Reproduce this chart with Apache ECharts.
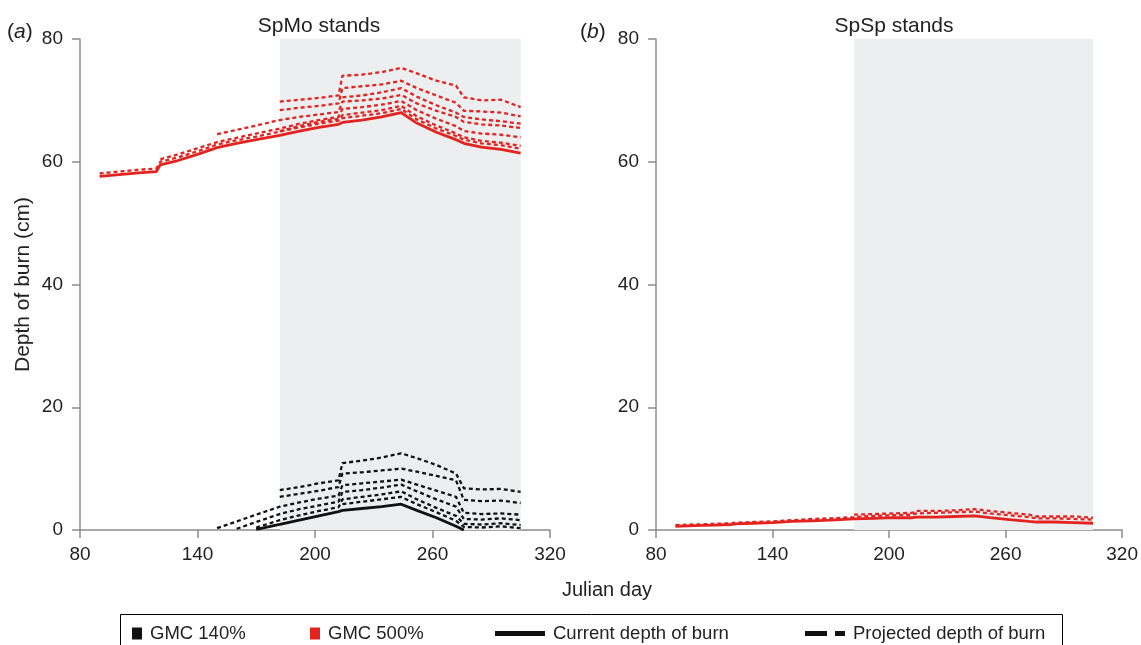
<!DOCTYPE html>
<html>
<head>
<meta charset="utf-8">
<script src="https://cdn.jsdelivr.net/npm/echarts@6/dist/echarts.min.js"></script>
<style>
  html, body { margin: 0; padding: 0; background: #fff; }
  #chart { width: 1141px; height: 645px; }
</style>
</head>
<body>
<div id="chart"></div>
<script>
var _ = null;

var days = [90, 100, 110, 119, 121, 130, 140, 150, 160, 170, 182, 192, 202, 212, 214, 224, 234, 244, 252, 262, 272, 276, 285, 295, 305];

// fire season shading
var shadeStart = 182;
var shadeEnd = 305;

var xTicks = { min: 80, max: 320, interval: 60 };
var yTicks = { min: 0, max: 80, interval: 20 };

// (a) SpMo stands, GMC 500%
var redCurrentA = [57.6, 57.9, 58.2, 58.4, 59.5, 60.2, 61.2, 62.3, 63.0, 63.6, 64.3, 65.0, 65.6, 66.1, 66.4, 66.8, 67.3, 68.0, 66.3, 64.8, 63.6, 63.0, 62.4, 62.0, 61.4];
var redProjA1 = [_, _, _, _, _, _, _, _, _, _, 69.8, 70.1, 70.4, 70.8, 74.0, 74.2, 74.6, 75.3, 74.4, 73.2, 72.4, 70.5, 70.0, 70.1, 68.9];
var redProjA2 = [_, _, _, _, _, _, _, _, _, _, 68.4, 68.8, 69.1, 69.5, 72.0, 72.3, 72.6, 73.2, 72.0, 70.8, 69.6, 68.3, 68.2, 68.0, 67.4];
var redProjA3 = [_, _, _, _, _, _, _, 64.5, 65.2, 65.9, 66.8, 67.3, 67.7, 68.1, 69.8, 70.0, 70.3, 70.9, 69.5, 68.3, 67.3, 66.5, 66.1, 65.9, 65.5];
var redProjA4 = [_, _, _, _, 60.4, 61.2, 62.2, 63.2, 63.9, 64.6, 65.4, 66.2, 66.8, 67.3, 68.6, 68.9, 69.3, 69.9, 68.4, 67.0, 65.8, 65.0, 64.6, 64.4, 64.0];
var redProjA5 = [58.1, 58.4, 58.7, 58.9, 60.0, 60.7, 61.7, 62.8, 63.5, 64.1, 64.9, 65.6, 66.2, 66.7, 67.6, 68.0, 68.4, 69.1, 67.4, 65.9, 64.6, 64.0, 63.4, 63.1, 62.6];
var redProjA6 = [_, _, _, _, _, _, _, _, _, _, _, _, _, _, 70.5, 70.8, 71.3, 72.0, 70.6, 69.2, 68.0, 67.3, 66.9, 66.6, 66.2];
var redProjA7 = [_, _, _, _, _, _, _, _, _, _, 65.0, 65.8, 66.5, 67.0, 67.1, 67.5, 67.9, 68.6, 66.9, 65.4, 64.2, 63.6, 63.0, 62.7, 62.1];

// (a) SpMo stands, GMC 140%
var blackCurrentA = [_, _, _, _, _, _, _, _, _, 0.1, 0.9, 1.6, 2.3, 3.0, 3.2, 3.5, 3.8, 4.2, 3.2, 2.0, 0.6, 0.0, _, _, _];
var blackProjA1 = [_, _, _, _, _, _, _, _, _, _, 6.5, 7.0, 7.6, 8.1, 10.9, 11.3, 11.8, 12.5, 11.7, 10.6, 9.2, 6.8, 6.6, 6.7, 6.2];
var blackProjA2 = [_, _, _, _, _, _, _, _, _, _, 5.4, 5.9, 6.4, 7.0, 9.2, 9.4, 9.7, 10.0, 9.5, 8.8, 8.1, 4.9, 4.7, 4.8, 4.4];
var blackProjA3 = [_, _, _, _, _, _, _, 0.3, 1.4, 2.5, 3.8, 4.5, 5.1, 5.6, 7.3, 7.6, 7.9, 8.2, 7.4, 6.4, 5.4, 2.8, 2.6, 2.7, 2.5];
var blackProjA4 = [_, _, _, _, _, _, _, _, 0.2, 1.3, 2.6, 3.4, 4.0, 4.6, 6.2, 6.5, 6.9, 7.4, 6.3, 5.0, 3.8, 1.8, 1.7, 1.9, 1.6];
var blackProjA5 = [_, _, _, _, _, _, _, _, _, 0.4, 1.6, 2.4, 3.1, 3.7, 5.0, 5.4, 5.8, 6.3, 5.0, 3.6, 2.3, 1.0, 0.9, 1.1, 0.8];
var blackProjA6 = [_, _, _, _, _, _, _, _, _, _, _, _, _, _, 4.2, 4.6, 5.0, 5.4, 4.2, 2.9, 1.5, 0.5, 0.4, 0.6, 0.3];

// (b) SpSp stands, GMC 500%
var redCurrentB = [0.6, 0.7, 0.8, 0.9, 1.0, 1.1, 1.2, 1.4, 1.5, 1.6, 1.8, 1.9, 2.0, 2.0, 2.1, 2.1, 2.2, 2.3, 2.0, 1.7, 1.4, 1.3, 1.3, 1.2, 1.1];
var redProjB1 = [0.8, 0.9, 1.0, 1.1, 1.2, 1.3, 1.4, 1.6, 1.8, 1.9, 2.1, 2.3, 2.4, 2.5, 2.7, 2.8, 2.9, 3.0, 2.7, 2.4, 2.1, 1.9, 1.9, 1.8, 1.7];
var redProjB2 = [_, _, _, _, _, _, _, _, _, _, 2.5, 2.6, 2.7, 2.8, 3.1, 3.1, 3.2, 3.4, 3.1, 2.8, 2.5, 2.2, 2.2, 2.2, 2.0];

var RED = '#e3231f';
var BLACK = '#111111';
var AXIS = '#8c8c8c';
var TXT = '#222222';
var FONT = 'Liberation Sans, Arial, sans-serif';

function pairs(vals) {
    var out = [];
    days.forEach(function (d, i) {
        if (vals[i] !== null) out.push([d, vals[i]]);
    });
    return out;
}

function line(vals, color, dashed, panel) {
    return {
        type: 'line',
        xAxisIndex: panel,
        yAxisIndex: panel,
        data: pairs(vals),
        symbol: 'none',
        silent: true,
        lineStyle: {
            color: color,
            width: dashed ? 2.3 : 2.8,
            type: dashed ? [4, 3] : 'solid'
        }
    };
}

var chart = echarts.init(document.getElementById('chart'));

var series = [];

// shaded band in both panels
[0, 1].forEach(function (p) {
    series.push({
        type: 'line',
        xAxisIndex: p,
        yAxisIndex: p,
        data: [],
        silent: true,
        markArea: {
            silent: true,
            itemStyle: { color: '#eceef0' },
            data: [[{ xAxis: shadeStart }, { xAxis: shadeEnd }]]
        }
    });
});

[redProjA1, redProjA2, redProjA3, redProjA4, redProjA5, redProjA6, redProjA7].forEach(function (v) {
    series.push(line(v, RED, true, 0));
});
series.push(line(redCurrentA, RED, false, 0));

[blackProjA1, blackProjA2, blackProjA3, blackProjA4, blackProjA5, blackProjA6].forEach(function (v) {
    series.push(line(v, BLACK, true, 0));
});
series.push(line(blackCurrentA, BLACK, false, 0));

[redProjB1, redProjB2].forEach(function (v) {
    series.push(line(v, RED, true, 1));
});
series.push(line(redCurrentB, RED, false, 1));

// empty series, only there for the legend
series.push({ name: 'GMC 140%', type: 'line', data: [], itemStyle: { color: BLACK } });
series.push({ name: 'GMC 500%', type: 'line', data: [], itemStyle: { color: RED } });
series.push({ name: 'Current depth of burn', type: 'line', data: [], itemStyle: { color: BLACK } });
series.push({ name: 'Projected depth of burn', type: 'line', data: [], itemStyle: { color: BLACK } });

function xAxis(idx) {
    return {
        gridIndex: idx,
        type: 'value',
        min: xTicks.min,
        max: xTicks.max,
        interval: xTicks.interval,
        axisLine: { onZero: false, lineStyle: { color: AXIS, width: 1.5 } },
        axisTick: { length: 8, lineStyle: { color: AXIS, width: 1.5 } },
        axisLabel: { color: TXT, fontSize: 19, fontFamily: FONT, margin: 15 },
        splitLine: { show: false }
    };
}

function yAxis(idx, name) {
    return {
        gridIndex: idx,
        type: 'value',
        min: yTicks.min,
        max: yTicks.max,
        interval: yTicks.interval,
        name: name,
        nameLocation: 'middle',
        nameGap: 46,
        nameTextStyle: { color: TXT, fontSize: 21, fontFamily: FONT },
        axisLine: { show: true, lineStyle: { color: AXIS, width: 1.5 } },
        axisTick: { show: true, length: 8, lineStyle: { color: AXIS, width: 1.5 } },
        axisLabel: { color: TXT, fontSize: 19, fontFamily: FONT, margin: 17 },
        splitLine: { show: false }
    };
}

var legendText = { color: TXT, fontSize: 18.5, fontFamily: FONT, padding: [0, 0, 0, 3] };

function legendItem(left, name, icon, w, h) {
    return {
        left: left, top: 619, itemWidth: w, itemHeight: h,
        selectedMode: false, textStyle: legendText,
        data: [{ name: name, icon: icon }]
    };
}

var titleText = { color: TXT, fontSize: 21, fontWeight: 'normal', fontFamily: FONT };
var italicA = { rich: { i: { fontStyle: 'italic', fontSize: 21, color: TXT, fontFamily: FONT } } };

var option = {
    animation: false,
    backgroundColor: '#fff',
    title: [
        { text: 'SpMo stands', left: 314, top: 11, textAlign: 'center', textStyle: titleText },
        { text: 'SpSp stands', left: 889, top: 11, textAlign: 'center', textStyle: titleText },
        { text: '({i|a})', left: 2, top: 17, textStyle: Object.assign({}, titleText, italicA) },
        { text: '({i|b})', left: 575, top: 17, textStyle: Object.assign({}, titleText, italicA) },
        { text: 'Julian day', left: 602, top: 575, textAlign: 'center',
          textStyle: { color: TXT, fontSize: 20, fontWeight: 'normal', fontFamily: FONT } }
    ],
    grid: [
        { left: 80, right: 591, top: 39, bottom: 115 },
        { left: 656, right: 15, top: 39, bottom: 115 }
    ],
    xAxis: [xAxis(0), xAxis(1)],
    yAxis: [yAxis(0, 'Depth of burn (cm)'), yAxis(1, '')],
    legend: [
        legendItem(127, 'GMC 140%', 'rect', 10, 12),
        legendItem(305, 'GMC 500%', 'rect', 10, 12),
        legendItem(490, 'Current depth of burn', 'path://M0,0H50V5H0Z', 50, 5),
        legendItem(800, 'Projected depth of burn', 'path://M0,0H22V5H0Z M30,0H40V5H30Z', 40, 5)
    ],
    graphic: [
        { type: 'rect', left: 118, top: 612, shape: { width: 942, height: 40 },
          style: { fill: 'none', stroke: '#000', lineWidth: 1 }, silent: true }
    ],
    series: series
};

chart.setOption(option);
</script>
</body>
</html>
